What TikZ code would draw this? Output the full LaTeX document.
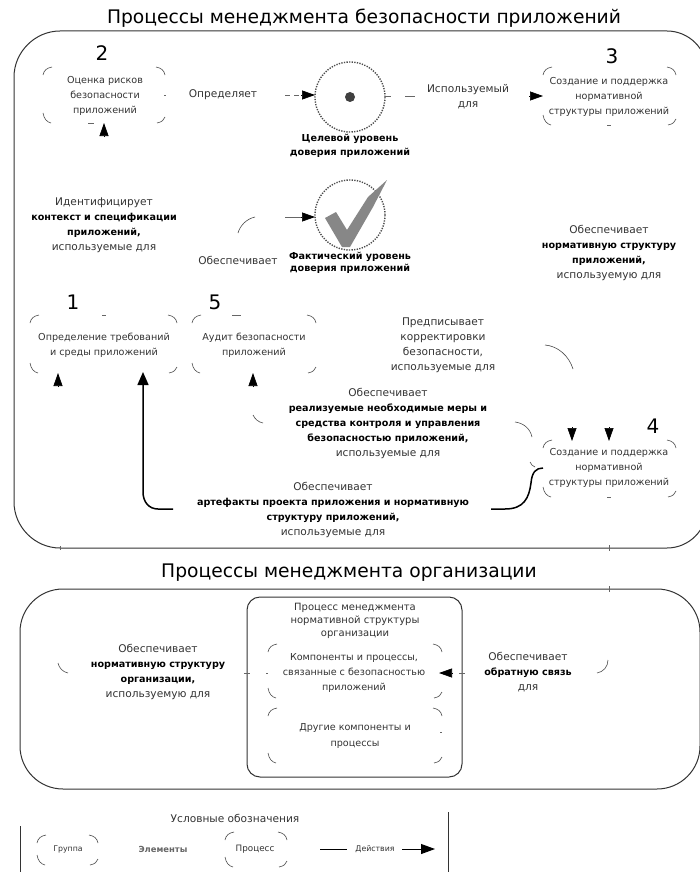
\documentclass[tikz,border=0pt]{standalone}
\usepackage{fontspec}
\setmainfont{DejaVu Sans}
\usetikzlibrary{arrows.meta}
\newcommand{\blobbox}[4]{%
  \draw[frag] ({#1},{#2+8}) .. controls ({#1+1},{#2+3}) and ({#1+4},{#2+1}) .. ({#1+9},{#2});
  \draw[frag] ({#3-9},{#2}) .. controls ({#3-4},{#2+1}) and ({#3-1},{#2+3}) .. ({#3},{#2+8});
  \draw[frag] ({#1},{#4-10}) .. controls ({#1+1},{#4-4}) and ({#1+4},{#4-1}) .. ({#1+8},{#4});
  \draw[frag] ({#3-8},{#4}) .. controls ({#3-3},{#4-1}) and ({#3-1},{#4-3}) .. ({#3},{#4-6});
}
\tikzset{
  x=1pt,y=-1pt,
  frag/.style={draw=black!70,line width=.6pt},
  tick/.style={draw=black!60,line width=.6pt},
  frame/.style={draw=black!80,line width=1pt},
  stub/.style={draw=black!60,line width=.7pt},
  head/.style={draw=black,line width=.7pt,-{Triangle[length=13pt,width=9pt]}},
  bigarrow/.style={draw=black,line width=1.5pt,-{Triangle[length=13pt,width=11pt]}},
  thickline/.style={draw=black,line width=1.5pt},
  ring/.style={draw=black!70,line width=1.4pt,dash pattern=on 1.3pt off 1.3pt},
  titletext/.style={font=\fontsize{18.7}{23}\selectfont,inner sep=0pt},
  numtext/.style={font=\fontsize{20}{22}\selectfont,inner sep=0pt},
  lbl/.style={font=\fontsize{10.6}{15}\selectfont,text=black!80,align=center,inner sep=0pt},
  boxt/.style={font=\fontsize{9.6}{15.3}\selectfont,text=black!80,align=center,inner sep=0pt},
  legt/.style={font=\fontsize{7.8}{9}\selectfont,text=black!80,inner sep=0pt},
}
\newcommand{\bt}[1]{{\fontsize{9.6}{15}\selectfont\bfseries\color{black}#1}}
\begin{document}
\begin{tikzpicture}
\useasboundingbox (0,0) rectangle (700,872);
\fill[white] (0,0) rectangle (700,872);

% titles
\node[titletext] (title1) at (364,18) {Процессы менеджмента безопасности приложений};
\node[titletext] (title2) at (349,573) {Процессы менеджмента организации};

% outer frames
\draw[frame] (60,31) -- (667,31) .. controls (689,31) and (707,49) .. (707,71) -- (707,508)
  .. controls (707,530) and (689,548) .. (667,548) -- (60,548)
  .. controls (35,548) and (14,527) .. (14,502) -- (14,77)
  .. controls (14,52) and (35,31) .. (60,31) -- cycle;
\draw[frame,rounded corners=43pt] (20,589) rectangle (700,789);
\draw[frame,rounded corners=13pt] (247,597) rectangle (462,777);
\draw[tick] (60,546) -- (60,550) (609,545) -- (609,551) (609,586) -- (609,592);

% numbers
\node[numtext] (n2) at (102,53) {2};
\node[numtext] (n3) at (612,56) {3};
\node[numtext] (n1) at (73,302) {1};
\node[numtext] (n5) at (215,302) {5};
\node[numtext] (n4) at (653,426) {4};

% process groups
\blobbox{43}{67}{165}{123}
\blobbox{543}{67}{676}{125}
\blobbox{30}{315}{177}{373}
\blobbox{192}{315}{316}{373}
\blobbox{543}{440}{676}{497}
\blobbox{268}{644}{442}{698}
\blobbox{268}{708}{442}{763}
\draw[tick] (164,95) -- (166,95) (88,123) -- (94,123) (607,125) -- (611,125)
  (102,315) -- (106,315) (232,315) -- (241,315) (607,497) -- (611,497) (440,732) -- (442,732)
  (266,673) -- (268,673);

\node[boxt] (t2) at (105,96) {Оценка рисков\\безопасности\\приложений};
\node[boxt] (t3) at (609,97) {Создание и поддержка\\нормативной\\структуры приложений};
\node[boxt] (t1) at (104,345) {Определение требований\\и среды приложений};
\node[boxt] (t5) at (254,345) {Аудит безопасности\\приложений};
\node[boxt] (t4) at (609,468) {Создание и поддержка\\нормативной\\структуры приложений};

% levels
\node[circle,ring,minimum size=70pt,inner sep=0pt] (target) at (350,97) {};
\fill[black!75] (target.center) circle[radius=5];
\node[circle,ring,minimum size=70pt,inner sep=0pt] (actual) at (350,215) {};
\fill[black!47] (325,218) -- (336,212) -- (347,230) -- (368,197) -- (387,180) -- (373,207) -- (350,247) -- (342,247) -- cycle;
\node[lbl,font=\fontsize{9.6}{14.5}\selectfont] (tl) at (350,146) {\bt{Целевой уровень}\\\bt{доверия приложений}};
\node[lbl,font=\fontsize{9.6}{12.5}\selectfont] (al) at (350,263) {\bt{Фактический уровень}\\\bt{доверия приложений}};

% labels
\node[lbl] (l1) at (223,95) {Определяет};
\node[lbl] (l2) at (468,97) {Используемый\\для};
\node[lbl] (l3) at (104,225.500) {Идентифицирует\\\bt{контекст и спецификации}\\\bt{приложений,}\\используемые для};
\node[lbl] (l4) at (238,260) {Обеспечивает};
\node[lbl] (l5) at (609,252.500) {Обеспечивает\\\bt{нормативную структуру}\\\bt{приложений,}\\используемую для};
\node[lbl] (l6) at (443,345) {Предписывает\\корректировки\\безопасности,\\используемые для};
\node[lbl] (l7) at (388,423) {Обеспечивает\\\bt{реализуемые необходимые меры и}\\\bt{средства контроля и управления}\\\bt{безопасностью приложений,}\\используемые для};
\node[lbl] (l8) at (333,510) {Обеспечивает\\\bt{артефакты проекта приложения и нормативную}\\\bt{структуру  приложений,}\\используемые для};
\node[lbl] (l9) at (158,671.500) {Обеспечивает\\\bt{нормативную структуру}\\\bt{организации,}\\используемую для};
\node[lbl,font=\fontsize{10}{13}\selectfont] (l10) at (355,621) {Процесс менеджмента\\нормативной структуры\\организации};
\node[boxt] (l11) at (354,673) {Компоненты и процессы,\\связанные с безопасностью\\приложений};
\node[boxt] (l12) at (355,736) {Другие компоненты и\\процессы};
\node[lbl] (l13) at (528,672.500) {Обеспечивает\\\bt{обратную связь}\\для};

% connector anchors
\coordinate (a2a) at (285,95); \coordinate (a2m) at (301,95); \coordinate (a2b) at (315,95);
\coordinate (a3a) at (385,96); \coordinate (a3b) at (391,96);
\coordinate (a3c) at (405,96); \coordinate (a3d) at (415,96);
\coordinate (a3e) at (529,96); \coordinate (a3f) at (543,96);
\coordinate (a4a) at (285,217); \coordinate (a4m) at (301,217); \coordinate (a4b) at (315,217);
\coordinate (u2a) at (104,137); \coordinate (u2b) at (104,123);
\coordinate (u1a) at (58,387); \coordinate (u1b) at (58,373);
\coordinate (u5a) at (253,387); \coordinate (u5b) at (253,373);
\coordinate (d1a) at (572,427); \coordinate (d1b) at (572,441);
\coordinate (d2a) at (609,427); \coordinate (d2b) at (609,441);
\coordinate (bga) at (173,509); \coordinate (bgb) at (143,372);
\coordinate (bra) at (491,509); \coordinate (brb) at (543,468);
\coordinate (ofa) at (453,673); \coordinate (ofb) at (439,673);

\draw[stub,dash pattern=on 5pt off 4pt] (a2a) -- (a2m);
\draw[head] (a2m) -- (a2b);
\draw[stub] (a3a) -- (a3b) (a3c) -- (a3d);
\draw[head] (a3e) -- (a3f);
\draw[stub] (a4a) -- (a4m);
\draw[head] (a4m) -- (a4b);
\draw[head] (u2a) -- (u2b);
\draw[head] (u1a) -- (u1b);
\draw[head] (u5a) -- (u5b);
\draw[head] (d1a) -- (d1b);
\draw[head] (d2a) -- (d2b);
\draw[head] (ofa) -- (ofb);
\draw[bigarrow] (bga) -- (158,509) .. controls (149,509) and (143,502) .. (143,492) -- (bgb);
\draw[thickline] (bra) -- (505,509) .. controls (524,509) and (529,498) .. (531,483) .. controls (532,472) and (536,468) .. (brb);

% loose arcs
\draw[frag] (238,233) .. controls (240,226) and (246,219) .. (255,217);
\draw[frag] (545,345) .. controls (558,346) and (569,356) .. (573,369);
\draw[frag] (515,422) .. controls (523,423) and (530,428) .. (532,437);
\draw[frag] (530,462) .. controls (531,465) and (533,466) .. (535,467);
\draw[frag] (253,415) .. controls (255,419) and (258,422) .. (263,423);
\draw[frag] (58,663) .. controls (59,668) and (63,672) .. (68,673);
\draw[frag] (608,660) .. controls (608,667) and (603,672) .. (597,673);
\draw[tick] (244,673) -- (250,673) (459,673) -- (465,673);

% legend
\draw[frame] (20,826) -- (20,872);
\draw[frame] (448,812) -- (448,872);
\node[lbl] (legtitle) at (235,818) {Условные обозначения};
\blobbox{37}{835}{98}{865}
\blobbox{225}{832}{287}{867}
\node[legt] (lg) at (68,849) {Группа};
\node[legt,text=black!60,font=\fontsize{8.4}{9}\selectfont\bfseries] (le) at (163,849) {Элементы};
\node[legt,font=\fontsize{8.8}{9}\selectfont] (lp) at (255,849) {Процесс};
\node[legt] (la) at (375,849) {Действия};
\coordinate (lga) at (320,849); \coordinate (lgb) at (347,849);
\coordinate (lgc) at (402,849); \coordinate (lgd) at (435,849);
\draw[draw=black,line width=.7pt] (lga) -- (lgb);
\draw[draw=black,line width=.9pt,-{Triangle[length=14pt,width=10pt]}] (lgc) -- (lgd);
\end{tikzpicture}
\end{document}
